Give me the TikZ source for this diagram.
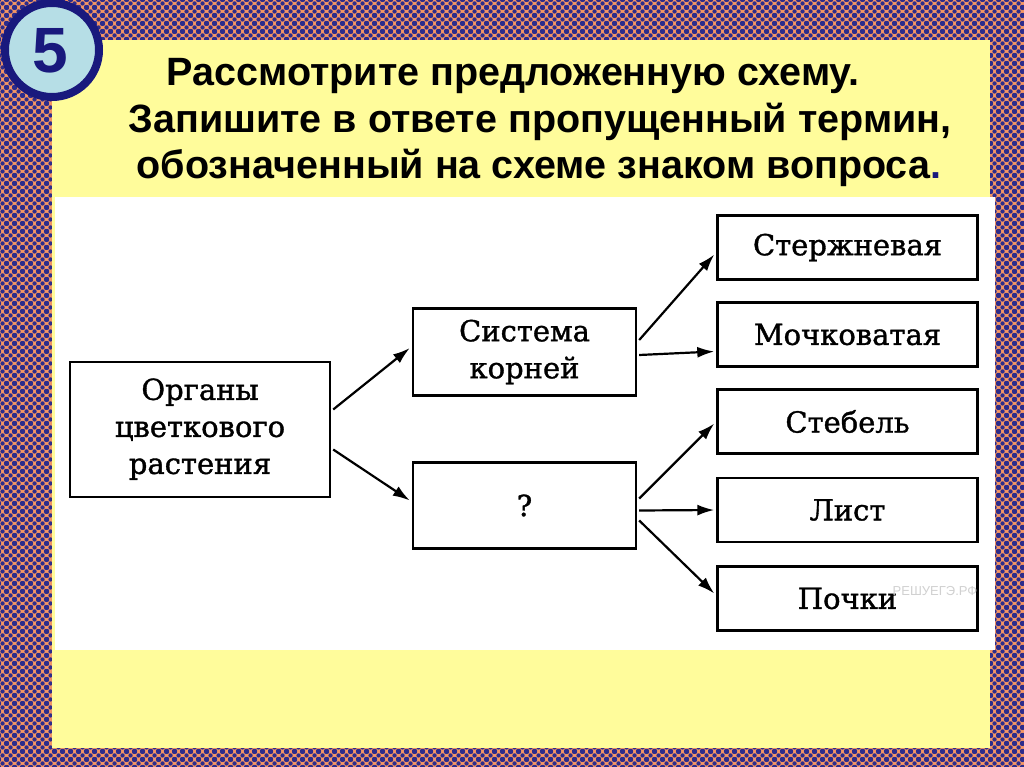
\documentclass[tikz,border=0pt]{standalone}
\usepackage{fontspec}
\setmainfont{DejaVu Serif}
\newfontfamily\schemefont{DejaVu Serif}[FakeBold=1.2]
\newfontfamily\titlefont{Liberation Sans}
\usetikzlibrary{arrows.meta,calc,patterns}
\definecolor{dotorange}{RGB}{245,150,100}
\definecolor{dotnavy}{RGB}{44,44,140}
\definecolor{panelyellow}{RGB}{255,252,155}
\definecolor{badgeblue}{RGB}{182,222,230}
\definecolor{badgenavy}{RGB}{25,25,125}
\pgfdeclarepatternformonly{dotgrid}{\pgfqpoint{0pt}{0pt}}{\pgfqpoint{8pt}{8pt}}{\pgfqpoint{8pt}{8pt}}{%
    \pgfpathcircle{\pgfqpoint{0pt}{0pt}}{2.45pt}%
    \pgfpathcircle{\pgfqpoint{8pt}{0pt}}{2.45pt}%
    \pgfpathcircle{\pgfqpoint{0pt}{8pt}}{2.45pt}%
    \pgfpathcircle{\pgfqpoint{8pt}{8pt}}{2.45pt}%
    \pgfpathcircle{\pgfqpoint{4pt}{4pt}}{2.45pt}%
    \pgfusepath{fill}}
\begin{document}
\begin{tikzpicture}[x=1pt,y=-1pt,>={Latex[length=17pt,width=11pt]},
        box/.style={draw,line width=2.4pt,inner sep=0pt,align=center,font=\schemefont\fontsize{29}{37}\selectfont},
        leaf/.style={box,minimum width=260pt,minimum height=64pt},
        arr/.style={->,line width=2.2pt},
        title/.style={anchor=base,inner sep=0pt,font=\titlefont\bfseries\fontsize{39.5}{46}\selectfont}]
        \useasboundingbox(0,0)rectangle(1024,767);
        % backdrop
        \fill[dotorange](0,0)rectangle(1024,767);
        \fill[pattern=dotgrid,pattern color=dotnavy](0,0)rectangle(1024,767);
        \fill[panelyellow](52,40)rectangle(990,748);
        \fill[white](55,197)rectangle(995,650);
        \draw[line width=8pt,draw=badgenavy,fill=badgeblue](52,50)circle(47);
        \node[inner sep=0pt,text=badgenavy,font=\titlefont\bfseries\fontsize{64}{64}\selectfont] (nomer) at (50,51) {5};

        \node[title] (line1) at (513,86) {Рассмотрите предложенную схему.};
        \node[title] (line2) at (540,133) {Запишите в ответе пропущенный термин,};
        \node[title] (line3) at (539,179) {обозначенный на схеме знаком вопроса\textcolor{badgenavy}{.}};

        % scheme
        \node[box,minimum width=260pt,minimum height=135pt] (organy) at (200,429.5)
            {\raisebox{-7pt}{\begin{tabular}{@{}c@{}}Органы\\цветкового\\растения\end{tabular}}};
        \node[box,minimum width=223pt,minimum height=87pt] (sistema) at (524.5,352) {Система\\корней};
        \node[box,minimum width=223pt,minimum height=86pt] (vopros) at (524.5,505.5) {?};
        \node[leaf] (sterzh) at (847.5,247.5) {Стержневая};
        \node[leaf] (mochk) at (847.5,334.5) {Мочковатая};
        \node[leaf] (stebel) at (847.5,421.5) {Стебель};
        \node[leaf] (list) at (847.5,510) {Лист};
        \node[leaf] (pochki) at (847.5,598.5) {Почки};
        \node[text=black!18,font=\titlefont\fontsize{13}{13}\selectfont] (znak) at (935,591) {РЕШУЕГЭ.РФ};

        \draw[arr]($(organy.east)+(2,-20)$)--($(sistema.west)+(-2,-4)$);
        \draw[arr]($(organy.east)+(2,20)$)--($(vopros.west)+(-2,-5)$);
        \draw[arr]($(sistema.east)+(2,-12)$)--($(sterzh.west)+(-2,7)$);
        \draw[arr]($(sistema.east)+(2,3)$)--($(mochk.west)+(-2,17)$);
        \draw[arr]($(vopros.east)+(2,-7)$)--($(stebel.west)+(-2,2)$);
        \draw[arr]($(vopros.east)+(2,5)$)--($(list.west)+(-2,0)$);
        \draw[arr]($(vopros.east)+(2,15)$)--($(pochki.west)+(-2,-5)$);
    \end{tikzpicture}
\end{document}
